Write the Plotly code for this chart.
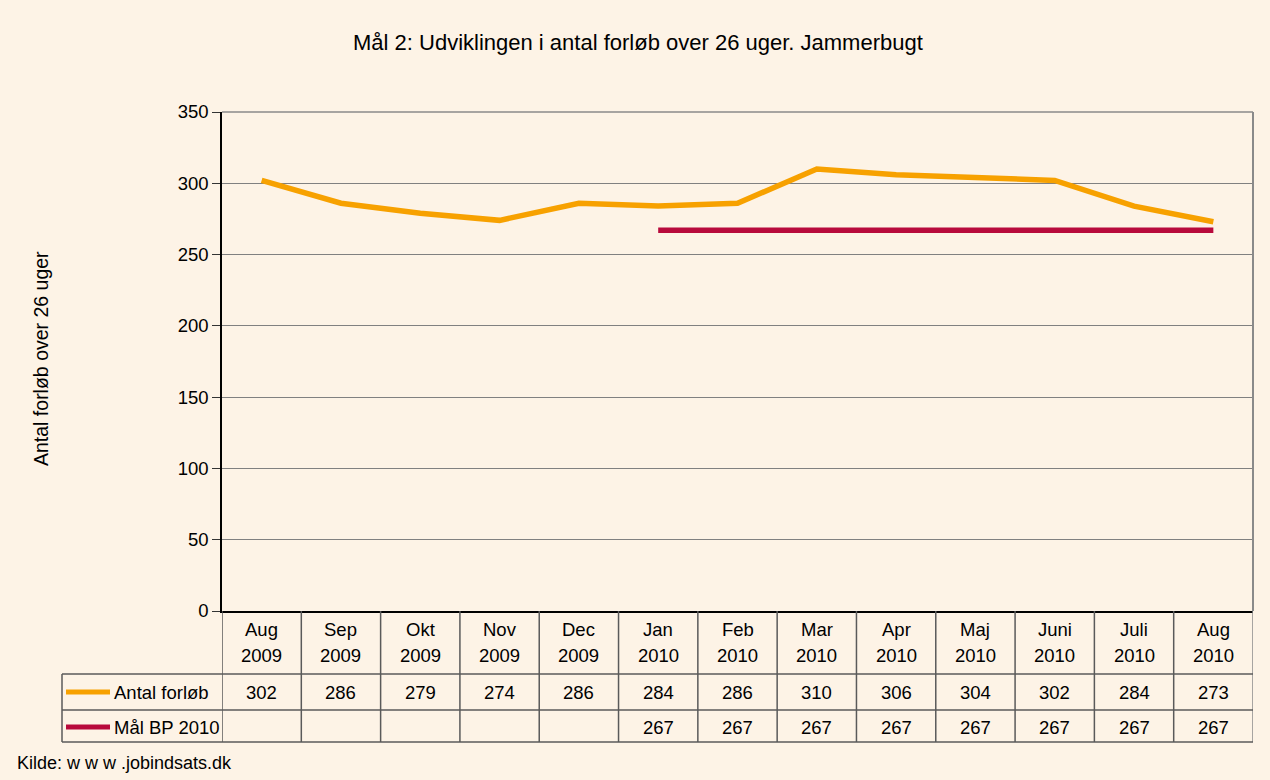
import plotly.graph_objects as go

months = ["Aug", "Sep", "Okt", "Nov", "Dec", "Jan", "Feb", "Mar", "Apr", "Maj", "Juni", "Juli", "Aug"]
years = ["2009", "2009", "2009", "2009", "2009", "2010", "2010", "2010", "2010", "2010", "2010", "2010", "2010"]
antal = [302, 286, 279, 274, 286, 284, 286, 310, 306, 304, 302, 284, 273]
maal = [None, None, None, None, None, 267, 267, 267, 267, 267, 267, 267, 267]
series_names = ["Antal forløb", "Mål BP 2010"]
y_ticks = [0, 50, 100, 150, 200, 250, 300, 350]

ORANGE = "#F7A100"
RED = "#B80A3C"
BG = "#FDF3E6"
GRID = "#808080"
FONT = "Arial, Liberation Sans, sans-serif"

W, H = 1270, 780
L, R, T, B = 222, 17, 112, 169
plot_h = H - T - B
plot_w = W - L - R

def py(pix):
    return (H - B - pix) / plot_h

def px(pix):
    return (pix - L) / plot_w

n = len(months)
xs = list(range(n))

fig = go.Figure()
fig.add_trace(go.Scatter(x=xs, y=antal, mode="lines", name=series_names[0],
                         line=dict(color=ORANGE, width=5.5), showlegend=False))
fig.add_trace(go.Scatter(x=xs, y=maal, mode="lines", name=series_names[1],
                         line=dict(color=RED, width=5.5), showlegend=False))

shapes = []
annotations = []

y_top = 0
y_hdr = py(674)
y_r1 = py(710)
y_r2 = py(742)
x_left = px(62)

line_style = dict(color="#5a5a5a", width=1.5)
for i in range(n + 1):
    col = "#8a8a8a" if i == n else "#5a5a5a"
    shapes.append(dict(type="line", xref="x", yref="paper", x0=i - 0.5, x1=i - 0.5,
                       y0=y_top, y1=y_r2, line=dict(color=col, width=1.5)))
shapes.append(dict(type="line", xref="paper", yref="paper", x0=x_left, x1=x_left,
                   y0=y_hdr, y1=y_r2, line=line_style))
for yy in (y_hdr, y_r1, y_r2):
    shapes.append(dict(type="line", xref="paper", yref="paper", x0=x_left, x1=1,
                       y0=yy, y1=yy, line=line_style))
# plot area right and top borders
shapes.append(dict(type="line", xref="paper", yref="paper", x0=1, x1=1, y0=0, y1=1,
                   line=dict(color="#8a8a8a", width=2)))
shapes.append(dict(type="line", xref="paper", yref="paper", x0=0, x1=1, y0=1, y1=1,
                   line=dict(color="#8a8a8a", width=1.5)))

for yy, col in ((py(692), ORANGE), (py(727), RED)):
    shapes.append(dict(type="line", xref="paper", yref="paper", x0=px(66), x1=px(110),
                       y0=yy, y1=yy, line=dict(color=col, width=5)))

cell_font = dict(size=18.5, color="black", family=FONT)
annotations.append(dict(text=series_names[0], xref="paper", yref="paper", x=px(112), y=py(692),
                        xanchor="left", yanchor="middle", showarrow=False, font=cell_font))
annotations.append(dict(text=series_names[1], xref="paper", yref="paper", x=px(112), y=py(727),
                        xanchor="left", yanchor="middle", showarrow=False, font=cell_font))

for i in range(n):
    annotations.append(dict(text=months[i], xref="x", yref="paper", x=i, y=py(629),
                            xanchor="center", yanchor="middle", showarrow=False, font=cell_font))
    annotations.append(dict(text=years[i], xref="x", yref="paper", x=i, y=py(655),
                            xanchor="center", yanchor="middle", showarrow=False, font=cell_font))
    annotations.append(dict(text=str(antal[i]), xref="x", yref="paper", x=i, y=py(692),
                            xanchor="center", yanchor="middle", showarrow=False, font=cell_font))
    if maal[i] is not None:
        annotations.append(dict(text=str(maal[i]), xref="x", yref="paper", x=i, y=py(727),
                                xanchor="center", yanchor="middle", showarrow=False, font=cell_font))

annotations.append(dict(text="Antal forløb over 26 uger", xref="paper", yref="paper",
                        x=px(41), y=py(359), textangle=-90, xanchor="center", yanchor="middle",
                        showarrow=False, font=dict(size=19.5, color="black", family=FONT)))
annotations.append(dict(text="Mål 2: Udviklingen i antal forløb over 26 uger. Jammerbugt",
                        xref="paper", yref="paper", x=px(638), y=py(43), xanchor="center",
                        yanchor="middle", showarrow=False,
                        font=dict(size=22, color="black", family=FONT)))
annotations.append(dict(text="Kilde: w w w .jobindsats.dk", xref="paper", yref="paper",
                        x=px(15), y=py(763), xanchor="left", yanchor="middle",
                        showarrow=False, font=dict(size=18, color="black", family=FONT)))

fig.update_layout(
    width=W, height=H,
    margin=dict(l=L, r=R, t=T, b=B, pad=0),
    paper_bgcolor=BG, plot_bgcolor=BG,
    font=dict(family=FONT, color="black"),
    xaxis=dict(range=[-0.5, n - 0.5], showticklabels=False, showgrid=False, zeroline=False,
               ticks="", showline=True, linecolor="black", linewidth=1.5, fixedrange=True),
    yaxis=dict(range=[0, 350], tickvals=y_ticks, ticks="outside", ticklen=8, tickcolor="#333",
               showline=True, linecolor="black", linewidth=1.5, showgrid=True, gridcolor=GRID,
               gridwidth=1.2, zeroline=False, tickfont=dict(size=18.5, color="black", family=FONT),
               fixedrange=True),
    shapes=shapes, annotations=annotations, showlegend=False,
)

fig.write_html("out.html", config={"displayModeBar": False},
               post_script="document.body.style.margin='0';document.body.style.background='%s';" % BG)
